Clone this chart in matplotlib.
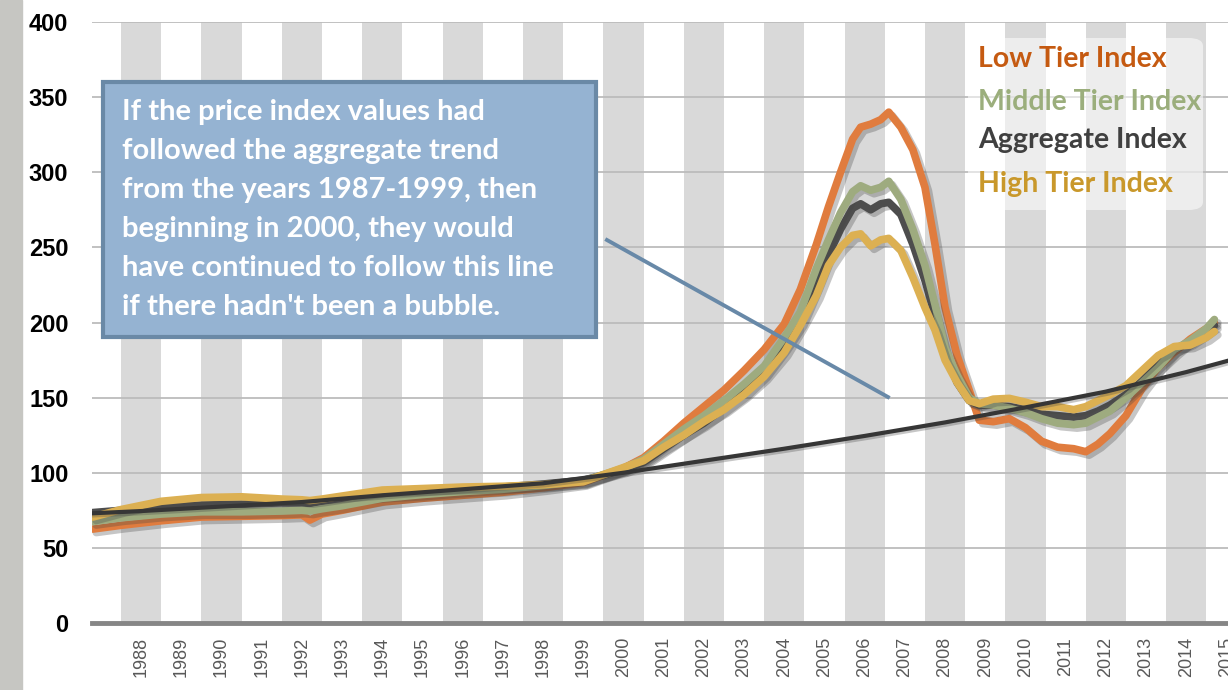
import matplotlib
matplotlib.use("Agg")
import matplotlib.pyplot as plt
import matplotlib.patheffects as pe
from matplotlib.patches import Rectangle, FancyBboxPatch

# ---- data (decimal years) ----
t = [1986.8, 1987.5, 1988.5, 1989.5, 1990.5, 1991.5, 1992.0, 1992.2, 1992.5, 1993.0,
     1994.0, 1995.0, 1996.0, 1997.0, 1998.0, 1999.0, 2000.0, 2000.5, 2001.0, 2001.5,
     2002.0, 2002.5, 2003.0, 2003.5, 2004.0, 2004.4, 2004.8, 2005.1, 2005.4, 2005.7,
     2005.9, 2006.15, 2006.4, 2006.6, 2006.9, 2007.2, 2007.5, 2007.75, 2008.0, 2008.3,
     2008.6, 2008.85, 2009.2, 2009.6, 2010.0, 2010.4, 2010.8, 2011.2, 2011.5, 2011.8,
     2012.1, 2012.5, 2012.9, 2013.3, 2013.7, 2014.1, 2014.5, 2014.7]

low_tier = [62.5, 65, 68, 70.5, 71, 71.5, 72, 68.5, 72.5, 75,
            80.5, 83, 85, 87, 90, 93.5, 103, 110, 121, 133,
            144, 155, 168, 182, 199, 222, 252, 277, 300, 322,
            330, 332, 335, 340, 330, 315, 290, 252, 210, 178,
            155, 135, 134, 136, 130, 121, 117, 116, 114, 119,
            126, 138, 156, 170, 180, 189, 196, 200]

middle_tier = [67.5, 70, 72.5, 74, 74, 74.5, 75, 74.5, 76, 78,
               83, 85.5, 87.5, 89, 91.5, 94.5, 103, 109, 119, 129,
               138, 148, 159, 171, 190, 207, 236, 255, 273, 287,
               291, 288, 290, 294, 282, 262, 238, 212, 183, 165,
               150, 146, 145, 143, 140, 136, 133, 132, 133, 137,
               141, 150, 160, 170, 182, 188, 196, 202]

aggregate = [73.5, 75, 77, 78.5, 79, 80, 80, 79.5, 81, 82.5,
             85, 86.5, 88.5, 90.5, 92.5, 95, 102, 107, 116, 125,
             133, 143, 153, 166, 184, 200, 225, 245, 262, 276,
             279, 275, 279, 280, 272, 252, 228, 205, 180, 160,
             148, 145, 145, 144, 142, 139, 138, 137, 138, 141,
             145, 152, 161, 172, 182, 187, 194, 198]

high_tier = [70.5, 75.5, 81, 83.5, 84, 82.5, 82, 81.5, 82.5, 84.5,
             88.5, 89.5, 90.5, 91, 92, 94, 103.5, 108, 117, 125,
             134, 142, 152, 164, 180, 198, 218, 238, 250, 258,
             259, 251, 255, 256, 248, 230, 210, 195, 175, 160,
             148, 146, 149, 149.5, 147, 144, 144, 142, 144, 148,
             152, 158, 168, 178, 184, 185, 190, 194]

# 1987-1999 trend carried forward
trend_t = [1986.78, 1988, 1990, 1992, 1994, 1996, 1998, 2000, 2002, 2004,
           2006, 2008, 2010, 2012, 2014, 2015.1]
trend_v = [73, 74.5, 77.5, 80.5, 85, 89, 93, 100, 108, 116,
           124.5, 133.5, 143.5, 154, 167, 175]

years = list(range(1988, 2016))
y_ticks = list(range(0, 401, 50))

legend_items = [("Low Tier Index", "#c55a11"),
                ("Middle Tier Index", "#9bae7c"),
                ("Aggregate Index", "#404040"),
                ("High Tier Index", "#c9982b")]

note_lines = ["If the price index values had",
              "followed the aggregate trend",
              "from the years 1987-1999, then",
              "beginning in 2000, they would",
              "have continued to follow this line",
              "if there hadn't been a bubble."]
pointer = ((1999.59, 254.9), (2006.58, 150.4))

# ---- figure ----
W, H = 1228, 690
fig = plt.figure(figsize=(W / 100, H / 100), dpi=100)
fig.patch.set_facecolor("white")
fig.patches.append(Rectangle((0, 0), 22 / W, 1, transform=fig.transFigure,
                             color="#c6c6c2", zorder=-5))

px_per_year = 40.2
ax = fig.add_axes([92 / W, 67 / H, 1136 / W, 601 / H])
ax.set_xlim(1986.78, 1986.78 + 1136 / px_per_year)
ax.set_ylim(0, 400)

for y in range(1988, 2015, 2):
    ax.axvspan(y - 0.5, y + 0.5, color="#d9d9d9", lw=0, zorder=0)

ax.set_axisbelow(True)
ax.yaxis.grid(True, color="#bcbcbc", lw=1.3)
for s in ax.spines.values():
    s.set_visible(False)
ax.axhline(0, color="#868686", lw=3.5, clip_on=False, zorder=2)

ax.set_yticks(y_ticks)
ax.set_yticklabels([str(v) for v in y_ticks], fontsize=17, fontweight="bold",
                   family="Liberation Sans", color="black")
ax.set_xticks(years)
ax.set_xticklabels([str(y) for y in years], rotation=90, fontsize=13,
                   family="Liberation Sans", color="#595959")
ax.tick_params(axis="y", length=0, pad=17)
ax.tick_params(axis="x", length=0, pad=10)


def shadow(off=2.5):
    return [pe.SimpleLineShadow(offset=(off, -off), shadow_color="#444444", alpha=0.3),
            pe.Normal()]


ax.plot(t, low_tier, color="#e07c3e", lw=5.5, zorder=3, path_effects=shadow(), solid_capstyle="round")
ax.plot(t, aggregate, color="#4d4d4d", lw=5.5, zorder=4, path_effects=shadow(), solid_capstyle="round")
ax.plot(t, middle_tier, color="#9eab7f", lw=5.5, zorder=5, path_effects=shadow(), solid_capstyle="round")
ax.plot(t, high_tier, color="#dcb052", lw=5.5, zorder=6, path_effects=shadow(), solid_capstyle="round")
ax.plot(trend_t, trend_v, color="#363636", lw=3, zorder=7, path_effects=shadow(1.5))

# pointer from the note to the trend line
ax.plot([pointer[0][0], pointer[1][0]], [pointer[0][1], pointer[1][1]],
        color="#6889a8", lw=2.8, zorder=8)

# note box
fig.patches.append(Rectangle((103 / W, 1 - 337 / H), 493 / W, 255 / H,
                             transform=fig.transFigure, facecolor="#95b3d2",
                             edgecolor="#6a89a6", lw=3, zorder=10))
for i, line in enumerate(note_lines):
    fig.text(122 / W, 1 - (112 + 39 * i) / H, line, color="white", fontsize=21,
             fontweight="bold", family="Lato", va="center", ha="left", zorder=11)

# legend box (text only)
fig.patches.append(FancyBboxPatch((968 / W, 1 - 210 / H), 235 / W, 172 / H,
                                  boxstyle="round,pad=0,rounding_size=0.012",
                                  transform=fig.transFigure, facecolor="white",
                                  edgecolor="none", alpha=0.55, zorder=9))
for (label, col), yy in zip(legend_items, [59, 102, 140, 184]):
    fig.text(978 / W, 1 - yy / H, label, color=col, fontsize=20.5,
             fontweight="bold", family="Lato", va="center", ha="left", zorder=11)

fig.savefig("out.png", dpi=100)
